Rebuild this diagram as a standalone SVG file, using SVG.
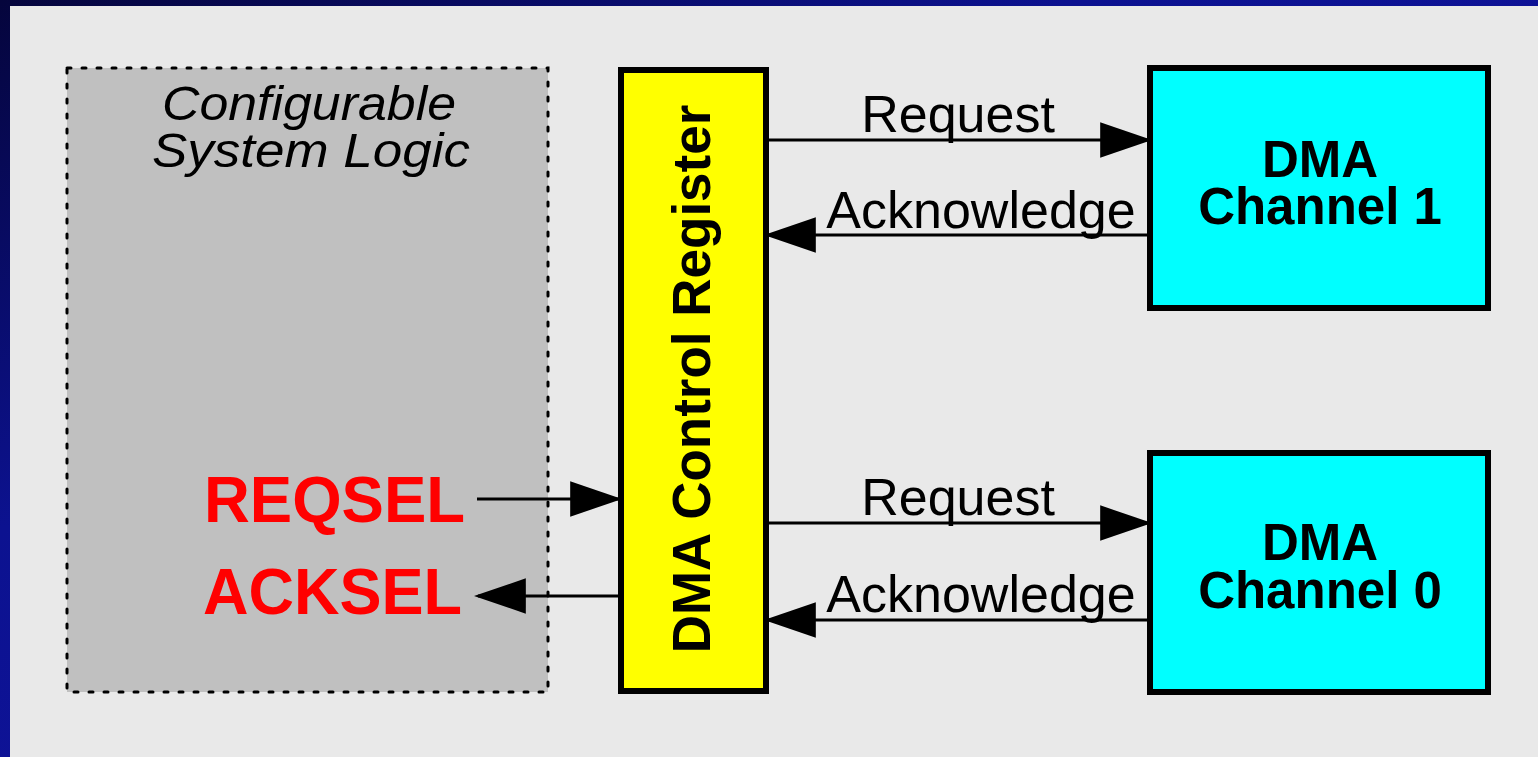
<svg xmlns="http://www.w3.org/2000/svg" width="1538" height="757" viewBox="0 0 1538 757">
  <defs>
    <linearGradient id="frame" x1="0" y1="0" x2="1" y2="1">
      <stop offset="0" stop-color="#05053c"/>
      <stop offset="0.35" stop-color="#0c1290"/>
      <stop offset="1" stop-color="#1414a8"/>
    </linearGradient>
    <marker id="ah" markerUnits="userSpaceOnUse" markerWidth="52" markerHeight="36" viewBox="0 0 50 34" refX="46" refY="17" orient="auto">
      <path d="M0,0 L50,17 L0,34 z" fill="#000"/>
    </marker>
    <style>
      .lbl { font-family: "Liberation Sans", Arial, sans-serif; fill: #000; }
      .bold { font-weight: bold; }
      .sig { font-family: "Liberation Sans", Arial, sans-serif; font-weight: bold; fill: #ff0000; font-size: 64px; }
      .box { stroke: #000; stroke-width: 6; }
      .conn { stroke: #000; stroke-width: 3; fill: none; marker-end: url(#ah); }
    </style>
  </defs>

  <rect x="0" y="0" width="1538" height="757" fill="url(#frame)"/>
  <rect x="10" y="6" width="1528" height="751" fill="#e9e9e9"/>

  <g id="system-logic">
    <rect x="67" y="68" width="481" height="624" fill="#c0c0c0" stroke="#000" stroke-width="3" stroke-dasharray="4 11" stroke-linecap="round"/>
    <text class="lbl" x="309" y="120" font-size="49" font-style="italic" text-anchor="middle" textLength="294" lengthAdjust="spacingAndGlyphs">Configurable</text>
    <text class="lbl" x="311" y="167" font-size="49" font-style="italic" text-anchor="middle" textLength="318" lengthAdjust="spacingAndGlyphs">System Logic</text>
    <text class="sig" x="465" y="522" text-anchor="end" textLength="261" lengthAdjust="spacingAndGlyphs">REQSEL</text>
    <text class="sig" x="462" y="614" text-anchor="end" textLength="259" lengthAdjust="spacingAndGlyphs">ACKSEL</text>
  </g>

  <g id="dma-control-register">
    <rect class="box" x="621" y="70" width="145" height="621" fill="#ffff00"/>
    <text class="lbl bold" transform="translate(710,379) rotate(-90)" font-size="53" text-anchor="middle">DMA Control Register</text>
  </g>

  <g id="dma-channel-1">
    <rect class="box" x="1150" y="68" width="338" height="240" fill="#00ffff"/>
    <text class="lbl bold" x="1320" y="177" font-size="51" text-anchor="middle">DMA</text>
    <text class="lbl bold" x="1320" y="224" font-size="51" text-anchor="middle">Channel 1</text>
  </g>

  <g id="dma-channel-0">
    <rect class="box" x="1150" y="453" width="338" height="239" fill="#00ffff"/>
    <text class="lbl bold" x="1320" y="560" font-size="51" text-anchor="middle">DMA</text>
    <text class="lbl bold" x="1320" y="608" font-size="51" text-anchor="middle">Channel 0</text>
  </g>

  <g id="connectors">
    <line class="conn" x1="767" y1="140" x2="1148" y2="140"/>
    <line class="conn" x1="1148" y1="235" x2="768" y2="235"/>
    <line class="conn" x1="767" y1="523" x2="1148" y2="523"/>
    <line class="conn" x1="1148" y1="620" x2="768" y2="620"/>
    <line class="conn" x1="477" y1="499" x2="618" y2="499"/>
    <line class="conn" x1="618" y1="596" x2="478" y2="596"/>
    <text class="lbl" x="958" y="132" font-size="52" text-anchor="middle">Request</text>
    <text class="lbl" x="981" y="228" font-size="52" text-anchor="middle">Acknowledge</text>
    <text class="lbl" x="958" y="515" font-size="52" text-anchor="middle">Request</text>
    <text class="lbl" x="981" y="612" font-size="52" text-anchor="middle">Acknowledge</text>
  </g>
</svg>
